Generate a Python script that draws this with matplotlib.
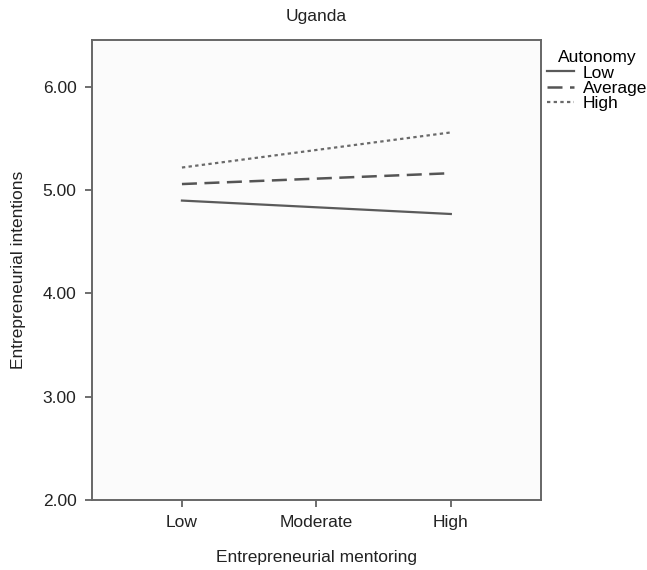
import matplotlib

matplotlib.use("Agg")
import matplotlib.pyplot as plt

plt.rcParams["font.family"] = ["Liberation Sans", "DejaVu Sans"]

# mentoring levels on x, one line per autonomy level
mentoring = ["Low", "Moderate", "High"]
autonomy = ["Low", "Average", "High"]
intent_low = [4.90, 4.83, 4.77]
intent_avg = [5.06, 5.11, 5.165]
intent_high = [5.22, 5.39, 5.56]

styles = {
    "Low": dict(ls="-", color="#5a5a5a", lw=1.6),
    "Average": dict(ls=(0, (6, 3)), color="#555555", lw=1.8),
    "High": dict(ls=(0, (1.5, 1.5)), color="#6a6a6a", lw=1.6),
}
FS = 12.5

fig = plt.figure(figsize=(6.47, 5.70), dpi=100)
ax = fig.add_axes([0.142, 0.1228, 0.694, 0.807])
ax.set_facecolor("#fbfbfb")

xs = [0, 2]
for name, vals in zip(autonomy, [intent_low, intent_avg, intent_high]):
    ax.plot(xs, [vals[0], vals[-1]], label=name, **styles[name])

ax.set_xlim(-0.67, 2.67)
ax.set_ylim(2.0, 6.455)
ax.set_xticks(range(len(mentoring)))
ax.set_xticklabels(mentoring)
ax.set_yticks([2, 3, 4, 5, 6])
ax.set_yticklabels([f"{v:.2f}" for v in [2, 3, 4, 5, 6]])
ax.tick_params(axis="both", direction="out", length=5, width=1.2,
               color="#555555", labelsize=FS, labelcolor="#222222", pad=6)
for sp in ax.spines.values():
    sp.set_color("#666666")
    sp.set_linewidth(1.4)

ax.set_xlabel("Entrepreneurial mentoring", fontsize=FS, labelpad=14, color="#222222")
ax.set_ylabel("Entrepreneurial intentions", fontsize=FS, labelpad=12, color="#222222")
ax.set_title("Uganda", fontsize=FS, pad=14, color="#222222")

leg = ax.legend(title="Autonomy", loc="upper left", bbox_to_anchor=(1.005, 0.985),
                frameon=False, fontsize=FS, title_fontsize=FS,
                handlelength=1.6, handletextpad=0.5, labelspacing=0.0,
                borderaxespad=0.0, borderpad=0.2)
leg._legend_box.align = "center"

fig.savefig("out.png", dpi=100)
